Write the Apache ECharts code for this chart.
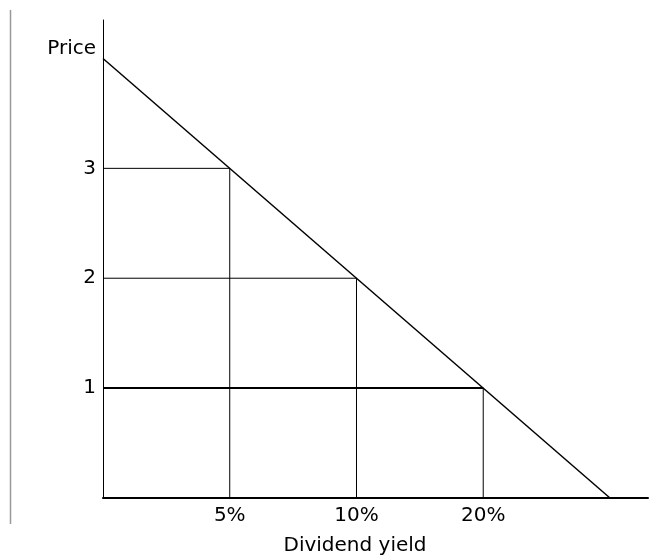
<!DOCTYPE html>
<html>
<head>
<meta charset="utf-8">
<script src="https://cdn.jsdelivr.net/npm/echarts@6/dist/echarts.min.js"></script>
<style>
  html, body { margin: 0; padding: 0; background: #fff; }
  #chart { width: 668px; height: 557px; }
</style>
</head>
<body>
<div id="chart"></div>
<script>
// Data
const xTickPositions = [1, 2, 3];
const xTickLabels = ['5%', '10%', '20%'];
const priceLevels = [3, 2, 1];
const yTickLabels = ['1', '2', '3', 'Price'];
const demandLine = [[0, 4], [4, 0]];
const xAxisTitle = 'Dividend yield';

const FONT = 'DejaVu Sans';

const guideSeries = [];
xTickPositions.forEach((x, i) => {
  const y = priceLevels[i];
  guideSeries.push({
    type: 'line', data: [[0, y], [x, y]], symbol: 'none', silent: true,
    lineStyle: { color: '#000', width: y === 1 ? 2 : 1 }, z: 2
  });
  guideSeries.push({
    type: 'line', data: [[x, 0], [x, y]], symbol: 'none', silent: true,
    lineStyle: { color: '#000', width: 1 }, z: 2
  });
});

const chart = echarts.init(document.getElementById('chart'), null, { renderer: 'canvas' });
chart.setOption({
  animation: false,
  backgroundColor: '#fff',
  grid: { left: 103, right: 20, top: 20, bottom: 59, containLabel: false, outerBoundsMode: 'none' },
  graphic: [{
    type: 'line', shape: { x1: 10.5, y1: 10, x2: 10.5, y2: 524 },
    style: { stroke: '#999', lineWidth: 1.5 }
  }],
  xAxis: {
    type: 'value', min: 0, max: 4.3, interval: 1,
    name: xAxisTitle, nameLocation: 'middle', nameGap: 38,
    nameTextStyle: { fontFamily: FONT, fontSize: 20, color: '#000', padding: [0, 41, 0, 0] },
    axisLine: { show: true, lineStyle: { color: '#000', width: 2 } },
    axisTick: { show: false },
    splitLine: { show: false },
    axisLabel: {
      margin: 8, fontFamily: FONT, fontSize: 20, color: '#000',
      showMaxLabel: false, showMinLabel: false,
      formatter: v => { const i = xTickPositions.indexOf(v); return i >= 0 ? xTickLabels[i] : ''; }
    }
  },
  yAxis: {
    type: 'value', min: 0, max: 4.35, interval: 1,
    axisLine: { show: true, lineStyle: { color: '#000', width: 1 } },
    axisTick: { show: false },
    splitLine: { show: false },
    axisLabel: {
      margin: 7, fontFamily: FONT, fontSize: 20, color: '#000',
      showMaxLabel: false,
      formatter: v => {
        if (v >= 1 && v <= 4 && Number.isInteger(v)) {
          const t = yTickLabels[v - 1];
          return v === 4 ? '{p|' + t + '}' : t;
        }
        return '';
      },
      rich: { p: { fontFamily: FONT, fontSize: 20, color: '#000', padding: [0, 0, 20, 0] } }
    }
  },
  series: [
    {
      type: 'line', data: demandLine, symbol: 'none', silent: true,
      lineStyle: { color: '#000', width: 1.5 }, z: 3
    },
    ...guideSeries
  ]
});
</script>
</body>
</html>
